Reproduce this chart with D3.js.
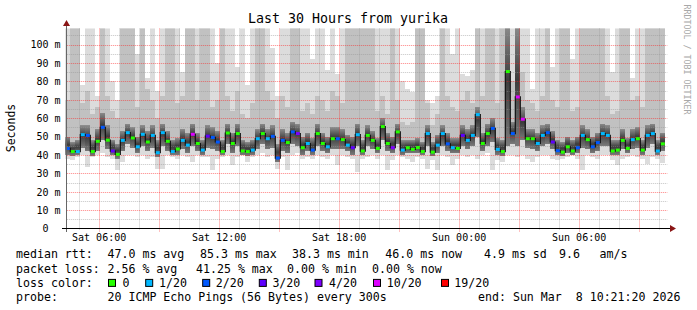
<!DOCTYPE html>
<html>
<head>
<meta charset="utf-8">
<script src="https://cdn.jsdelivr.net/npm/d3@7"></script>
<style>
  body { margin: 0; background: #fff; }
  svg { display: block; }
  text { font-family: "DejaVu Sans Mono", monospace; fill: #000; white-space: pre; }
</style>
</head>
<body>
<div id="chart"></div>
<script>
// samples every 15 minutes, Sat 04:20 -> Sun 10:20
const startTime = new Date(2026, 2, 7, 4, 20);
const stepMinutes = 15;

// median rtt in ms
const median = [
  43.5, 41.8, 41.8, 51.0, 50.6, 41.8, 47.4, 55.0, 48.0, 42.1,
  40.3, 47.9, 52.1, 49.2, 44.4, 51.2, 47.0, 50.6, 41.2, 52.1,
  47.4, 41.8, 43.2, 47.9, 45.3, 51.2, 46.2, 42.6, 50.2, 49.5,
  47.0, 41.8, 51.9, 46.2, 51.6, 42.1, 41.8, 42.6, 48.8, 51.6,
  48.8, 50.1, 38.3, 47.9, 46.7, 52.5, 51.6, 43.9, 46.2, 42.6,
  51.6, 46.2, 44.4, 48.8, 48.8, 48.3, 45.3, 43.9, 51.0, 42.1,
  50.6, 47.9, 43.5, 55.4, 46.2, 43.9, 52.5, 42.6, 43.9, 43.0,
  44.0, 41.8, 51.6, 41.5, 45.3, 51.6, 46.0, 43.9, 43.5, 50.6,
  47.9, 50.6, 61.9, 46.2, 51.6, 54.4, 43.0, 41.8, 85.3, 51.6,
  71.5, 59.4, 48.8, 48.8, 46.2, 50.6, 52.1, 47.0, 42.3, 41.5,
  44.4, 42.1, 43.9, 50.6, 48.3, 44.4, 46.7, 51.6, 50.6, 42.1,
  42.6, 47.9, 43.5, 48.3, 48.8, 42.6, 50.6, 51.6, 42.1, 46.0
];

// index into lossLabels for each sample
const lossIdx = [
  2, 0, 1, 1, 2, 0, 0, 2, 0, 3,
  0, 1, 1, 0, 1, 1, 0, 1, 1, 1,
  0, 1, 0, 1, 1, 5, 0, 1, 3, 2,
  2, 0, 0, 0, 0, 0, 0, 1, 1, 0,
  1, 2, 2, 2, 0, 2, 4, 0, 1, 2,
  0, 0, 1, 0, 2, 0, 1, 3, 1, 0,
  0, 0, 0, 0, 0, 4, 0, 1, 0, 0,
  0, 0, 1, 0, 1, 1, 2, 1, 0, 3,
  1, 1, 1, 0, 0, 2, 1, 0, 0, 2,
  5, 5, 0, 0, 1, 1, 2, 3, 2, 0,
  0, 0, 2, 1, 0, 2, 2, 1, 1, 0,
  0, 0, 0, 1, 0, 0, 1, 1, 1, 0
];

// smoke: fastest ping
const smokeMin = [
  38, 37, 39, 40, 33.5, 39, 40, 41, 39, 38,
  32, 36, 40, 40, 39, 40, 38, 39, 32.5, 32.6,
  40, 39, 38, 40, 39, 36, 40, 39, 39, 31.7,
  38, 39, 40, 34.4, 39, 40, 36.1, 39, 40, 41,
  39, 40, 32.6, 39, 31.7, 40, 41, 38, 39, 38,
  40, 39, 38, 40, 34.4, 40, 39, 38, 30.8, 38,
  39, 40, 38, 40, 31.7, 37, 40, 39, 38, 36.1,
  39, 38, 32.6, 37, 31.7, 40, 39, 34.4, 38, 40,
  39, 40, 38, 40, 41, 31.7, 37, 36.1, 40, 40,
  39, 40, 38, 36.1, 39, 40, 40, 38, 37, 38,
  39, 40, 38, 31.7, 40, 39, 38, 40, 40, 37,
  34.4, 38, 39, 40, 39, 38, 35.2, 39, 38, 35.6
];

// smoke: lower edge of the dense core
const smokeQ1 = [
  40, 39.5, 40, 44, 42, 39.5, 42, 48, 43, 40,
  38, 42, 46, 44, 41, 45, 42, 44, 39, 45,
  42, 40, 40, 43, 41, 45, 42, 40, 44, 43,
  42, 40, 46, 41, 45, 40, 39.5, 40, 43, 46,
  43, 44, 36, 42, 41, 46, 45, 40, 42, 40,
  45, 42, 41, 43, 43, 43, 42, 40, 45, 40,
  45, 43, 41, 48, 42, 41, 46, 40, 41, 41,
  41, 40, 45, 39.5, 41, 45, 42, 41, 41, 45,
  43, 45, 50, 42, 45, 47, 40, 39.5, 45, 46,
  45, 48, 44, 43, 42, 45, 46, 43, 40, 39.5,
  41, 40, 41, 44, 43, 41, 42, 45, 45, 40,
  40, 43, 41, 43, 44, 40, 44, 46, 40, 42
];

// smoke: upper edge of the dense core
const smokeQ3 = [
  50, 47, 48, 56, 56, 48, 54, 63, 56, 48,
  46, 53, 57, 55, 50, 56, 53, 56, 48, 57,
  53, 48, 49, 54, 52, 57, 52, 48, 56, 55,
  53, 48, 57, 52, 57, 48, 47, 48, 54, 57,
  54, 56, 46, 54, 52, 58, 57, 50, 52, 49,
  57, 52, 50, 55, 55, 54, 51, 50, 57, 48,
  56, 53, 49, 60, 52, 50, 57, 48, 48, 48,
  49, 47, 56, 47, 51, 56, 52, 49, 49, 56,
  54, 56, 66, 52, 57, 60, 49, 48, 110, 58,
  110, 66, 54, 54, 52, 56, 57, 53, 48, 47,
  50, 48, 50, 56, 54, 50, 52, 57, 56, 48,
  48, 54, 49, 54, 55, 48, 56, 57, 48, 52
];

// smoke: upper edge of the middle band
const smokeUpper = [
  70, 110, 110, 68, 75, 62, 66, 110, 72, 64,
  60, 110, 110, 110, 66, 110, 76, 70, 60, 72,
  110, 110, 68, 72, 110, 110, 70, 110, 110, 66,
  70, 110, 72, 64, 75, 62, 60, 68, 110, 110,
  75, 70, 60, 72, 66, 110, 110, 64, 68, 62,
  72, 70, 64, 75, 72, 68, 110, 110, 110, 110,
  110, 110, 64, 72, 62, 110, 70, 58, 56, 58,
  110, 110, 68, 56, 62, 110, 72, 66, 64, 70,
  75, 68, 110, 72, 110, 110, 68, 110, 110, 80,
  110, 85, 70, 68, 64, 72, 110, 70, 66, 110,
  110, 64, 66, 110, 110, 110, 110, 110, 72, 62,
  64, 110, 110, 70, 72, 66, 110, 110, 110, 110
];

// smoke: slowest ping
const smokeMax = [
  110, 110, 110, 78, 110, 110, 72, 110, 110, 80,
  70, 110, 110, 110, 95, 110, 82, 110, 75, 110,
  110, 110, 110, 85, 110, 110, 110, 110, 110, 110,
  90, 110, 110, 110, 88, 110, 78, 110, 110, 110,
  110, 98, 72, 110, 110, 110, 110, 110, 110, 92,
  110, 110, 86, 110, 84, 110, 110, 110, 110, 110,
  110, 110, 110, 110, 110, 110, 110, 80, 76, 74,
  110, 110, 70, 68, 72, 110, 110, 95, 110, 84,
  83, 86, 110, 110, 110, 110, 110, 110, 110, 110,
  110, 110, 110, 76, 110, 110, 110, 88, 110, 110,
  110, 92, 110, 110, 110, 110, 110, 110, 110, 85,
  110, 110, 110, 82, 110, 110, 110, 110, 110, 110
];

const lossLabels = ["0", "1/20", "2/20", "3/20", "4/20", "10/20", "19/20"];
const lossColors = ["#26ff00", "#00b8ff", "#0059ff", "#5e00ff", "#7e00ff", "#dd00ff", "#ff0000"];

const yTicks = [0, 10, 20, 30, 40, 50, 60, 70, 80, 90, 100];
const yTickLabels = ["0  ", "10 m", "20 m", "30 m", "40 m", "50 m", "60 m", "70 m", "80 m", "90 m", "100 m"];
const xTickLabels = ["Sat 06:00", "Sat 12:00", "Sat 18:00", "Sun 00:00", "Sun 06:00"];
const xTickTimes = [
  new Date(2026, 2, 7, 6), new Date(2026, 2, 7, 12), new Date(2026, 2, 7, 18),
  new Date(2026, 2, 8, 0), new Date(2026, 2, 8, 6)
];

const rttStats = ["47.0 ms avg", "85.3 ms max", "38.3 ms min", "46.0 ms now", "4.9 ms sd", "9.6", "am/s"];
const lossStats = ["2.56 % avg", "41.25 % max", "0.00 % min", "0.00 % now"];
const probeText = "20 ICMP Echo Pings (56 Bytes) every 300s";
const endText = "end: Sun Mar  8 10:21:20 2026";

// ---- layout ----
const width = 697, height = 310;
const plot = {left: 65.3, right: 665.3, top: 28.5, bottom: 228.5};
const yMax = 108.7;

const times = median.map((d, i) => d3.timeMinute.offset(startTime, i * stepMinutes));
const endTime = d3.timeMinute.offset(startTime, median.length * stepMinutes);

const x = d3.scaleTime().domain([startTime, endTime]).range([plot.left, plot.right]);
const y = d3.scaleLinear().domain([0, yMax]).range([plot.bottom, plot.top]);

const svg = d3.select("#chart").append("svg")
  .attr("width", width)
  .attr("height", height);

svg.append("rect").attr("width", width).attr("height", height).attr("fill", "#fff");

const defs = svg.append("defs");
defs.append("clipPath").attr("id", "plotclip")
  .append("rect")
  .attr("x", plot.left).attr("y", plot.top)
  .attr("width", plot.right - plot.left).attr("height", plot.bottom - plot.top);

// core smoke gets darker towards the middle
const coreGrad = defs.append("linearGradient").attr("id", "core")
  .attr("x1", 0).attr("y1", 0).attr("x2", 0).attr("y2", 1);
coreGrad.append("stop").attr("offset", "0%").attr("stop-color", "#8c8c8c");
coreGrad.append("stop").attr("offset", "45%").attr("stop-color", "#3c3c3c");
coreGrad.append("stop").attr("offset", "100%").attr("stop-color", "#7a7a7a");

const colX = i => x(times[i]);
const colW = i => x(d3.timeMinute.offset(times[i], stepMinutes)) - x(times[i]);
const colC = i => colX(i) + colW(i) / 2;

// smoke bands, outermost first
const bands = [
  {lo: smokeMin, hi: smokeMax, color: "#dcdcdc"},
  {lo: smokeQ1, hi: smokeUpper, color: "#c1c1c1"},
  {lo: smokeQ1, hi: smokeQ3, color: "url(#core)"}
];

const smoke = svg.append("g").attr("clip-path", "url(#plotclip)");
bands.forEach(b => {
  smoke.append("g")
    .selectAll("rect")
    .data(median)
    .join("rect")
    .attr("x", (d, i) => colX(i))
    .attr("width", (d, i) => colW(i))
    .attr("y", (d, i) => y(Math.min(b.hi[i], yMax + 2)))
    .attr("height", (d, i) => y(b.lo[i]) - y(Math.min(b.hi[i], yMax + 2)))
    .attr("fill", b.color)
    .attr("shape-rendering", "crispEdges");
});

// grid
const grid = svg.append("g");
const minorY = d3.range(5, yMax, 5).filter(v => v % 10 !== 0);
const majorY = yTicks.filter(v => v > 0);
const hours = d3.timeHour.range(startTime, endTime);
const minorStroke = "rgba(150,150,150,0.55)";
const majorStroke = "rgba(255,30,30,0.55)";
const py = v => Math.round(y(v)) + 0.5;
const px = t => Math.round(x(t)) + 0.5;

grid.selectAll(".ygmin").data(minorY).join("line")
  .attr("x1", plot.left + 1.5).attr("x2", plot.right + 2)
  .attr("y1", py).attr("y2", py)
  .attr("stroke", minorStroke).attr("stroke-dasharray", "1,1");
grid.selectAll(".xgmin").data(hours.filter(h => h.getHours() % 3 !== 0)).join("line")
  .attr("x1", px).attr("x2", px)
  .attr("y1", plot.top).attr("y2", plot.bottom + 2)
  .attr("stroke", minorStroke).attr("stroke-dasharray", "1,1");
grid.selectAll(".ygmaj").data(majorY).join("line")
  .attr("x1", plot.left + 1.5).attr("x2", plot.right + 2)
  .attr("y1", py).attr("y2", py)
  .attr("stroke", majorStroke).attr("stroke-dasharray", "1,1");
grid.selectAll(".xgmaj").data(hours.filter(h => h.getHours() % 3 === 0)).join("line")
  .attr("x1", px).attr("x2", px)
  .attr("y1", plot.top).attr("y2", plot.bottom + 3)
  .attr("stroke", majorStroke).attr("stroke-dasharray", "1,1");

// median line + loss colour marks
svg.append("path")
  .datum(median)
  .attr("clip-path", "url(#plotclip)")
  .attr("fill", "none")
  .attr("stroke", "#111")
  .attr("stroke-width", 1.2)
  .attr("d", d3.line().x((d, i) => colC(i)).y(d => y(d)).curve(d3.curveStep));

svg.append("g")
  .selectAll("rect")
  .data(median)
  .join("rect")
  .attr("x", (d, i) => colC(i) - 2)
  .attr("width", 4)
  .attr("y", d => y(d) - 1.5)
  .attr("height", 3)
  .attr("fill", (d, i) => lossColors[lossIdx[i]]);

// axes
const axisFont = "10px";
const xAxis = svg.append("g")
  .attr("transform", `translate(0,${plot.bottom})`)
  .call(d3.axisBottom(x).tickValues(xTickTimes).tickFormat((d, i) => xTickLabels[i]).tickSize(0));
xAxis.select(".domain").remove();
xAxis.selectAll("text")
  .attr("y", 12.3).attr("dy", null)
  .style("font-family", "'DejaVu Sans Mono', monospace")
  .style("font-size", axisFont).attr("fill", "#000");

const yAxis = svg.append("g")
  .attr("transform", `translate(66.5,0)`)
  .call(d3.axisLeft(y).tickValues(yTicks).tickFormat((d, i) => yTickLabels[i]).tickSize(0).tickPadding(6));
yAxis.select(".domain").remove();
yAxis.selectAll("text")
  .attr("dy", "0.34em")
  .style("white-space", "pre")
  .style("font-family", "'DejaVu Sans Mono', monospace")
  .style("font-size", axisFont).attr("fill", "#000");

svg.append("line")
  .attr("x1", 66.5).attr("x2", 66.5).attr("y1", plot.bottom + 3).attr("y2", 23)
  .attr("stroke", "#666").attr("shape-rendering", "crispEdges");
svg.append("line")
  .attr("x1", 62).attr("x2", 671).attr("y1", plot.bottom).attr("y2", plot.bottom)
  .attr("stroke", "#000").attr("shape-rendering", "crispEdges");
svg.append("path").attr("d", "M63,26 L66.5,20 L70,26 Z").attr("fill", "#8a1515");
svg.append("path").attr("d", "M670,225 L676,228.5 L670,232 Z").attr("fill", "#8a1515");

// title, unit, watermark
svg.append("text")
  .attr("x", 348).attr("y", 22.7)
  .attr("text-anchor", "middle")
  .style("font-size", "13.3px")
  .text("Last 30 Hours from yurika");

svg.append("text")
  .attr("transform", "translate(15,128) rotate(-90)")
  .attr("text-anchor", "middle")
  .style("font-size", "11.5px")
  .text("Seconds");

svg.append("text")
  .attr("transform", "translate(684.3,4.5) rotate(90)")
  .style("font-size", "8.3px")
  .style("fill", "#a8a8a8")
  .text("RRDTOOL / TOBI OETIKER");

// legend
const legFont = "11.6px";
const rows = [258.3, 272.5, 286.7, 300.9];
const leg = svg.append("g").style("font-size", legFont);

function legText(xpos, ypos, str) {
  leg.append("text")
    .attr("x", xpos).attr("y", ypos)
    .attr("xml:space", "preserve")
    .style("white-space", "pre")
    .text(str);
}

legText(16, rows[0], "median rtt:");
[107.5, 200, 292, 385.3, 484, 559, 599.6].forEach((p, i) => legText(p, rows[0], rttStats[i]));

legText(16, rows[1], "packet loss:");
[107.5, 196, 287, 372].forEach((p, i) => legText(p, rows[1], lossStats[i]));

legText(16, rows[2], "loss color:");
const boxX = [108.5, 145.7, 202.7, 259.3, 315, 373.5, 441.5];
const boxLabelX = [122.6, 159, 215.8, 272.4, 329, 386.7, 454.3];
lossLabels.forEach((lab, i) => {
  leg.append("rect")
    .attr("x", boxX[i]).attr("y", rows[2] - 7.3)
    .attr("width", 7).attr("height", 7)
    .attr("fill", lossColors[i])
    .attr("stroke", "#000").attr("stroke-width", 1);
  legText(boxLabelX[i], rows[2], lab);
});

legText(16, rows[3], "probe:");
legText(107.5, rows[3], probeText);
legText(478, rows[3], endText);
</script>
</body>
</html>
